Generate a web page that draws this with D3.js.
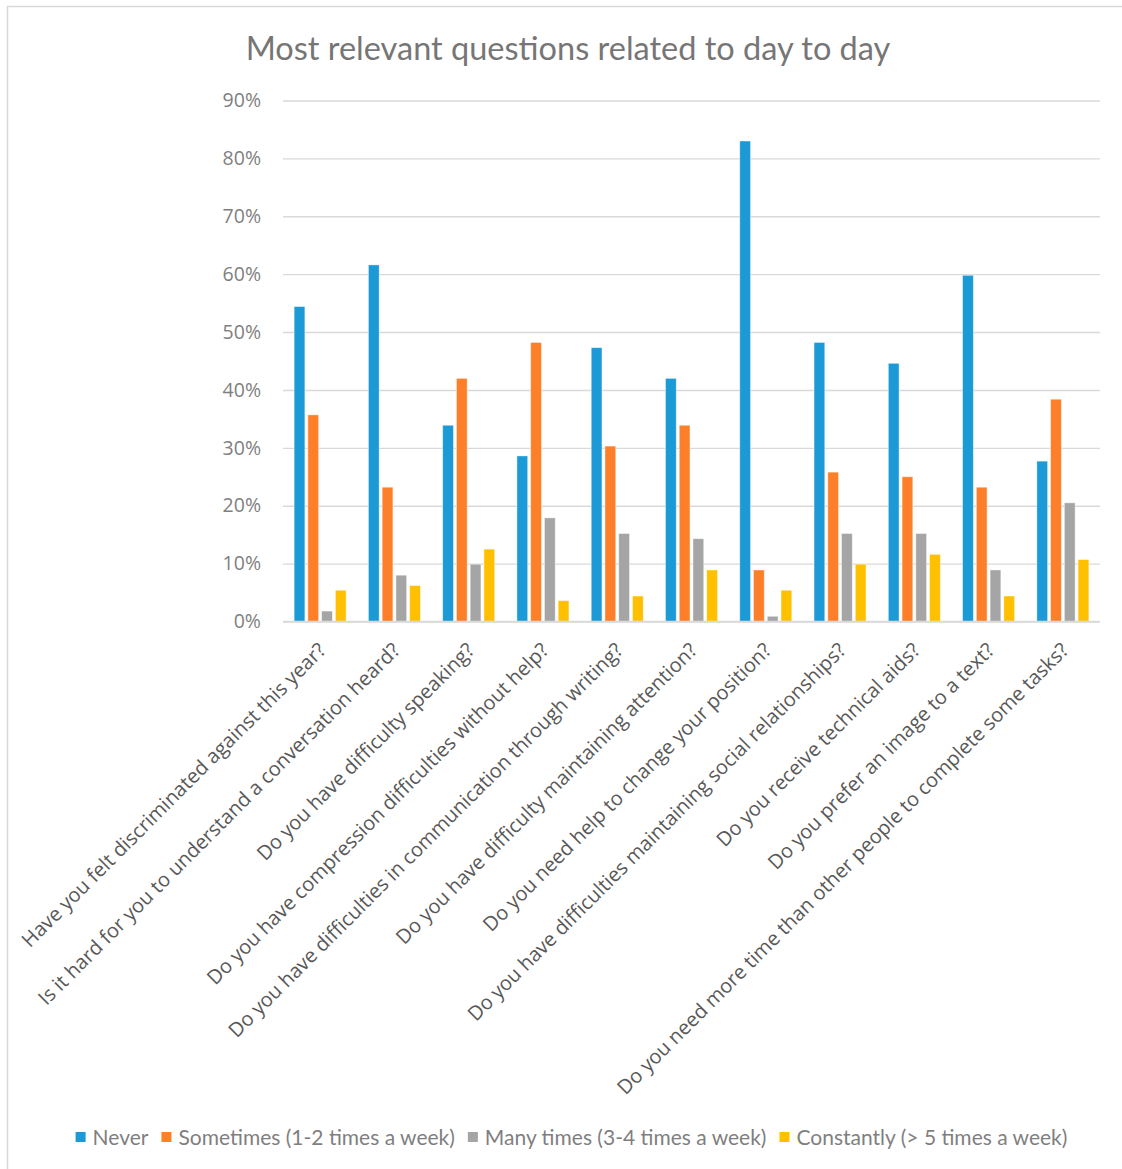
<!DOCTYPE html>
<html>
<head>
<meta charset="utf-8">
<script src="https://cdn.jsdelivr.net/npm/d3@7"></script>
<style>
  html, body { margin: 0; padding: 0; background: #fff; }
  svg { display: block; }
</style>
</head>
<body>
<svg id="chart" width="1122" height="1169"></svg>
<script>
// Survey questions (x categories)
const categories = [
  "Have you felt discriminated against this year?",
  "Is it hard for you to understand a conversation heard?",
  "Do you have difficulty speaking?",
  "Do you have compression difficulties without help?",
  "Do you have difficulties in communication through writing?",
  "Do you have difficulty maintaining attention?",
  "Do you need help to change your position?",
  "Do you have difficulties maintaining social relationships?",
  "Do you receive technical aids?",
  "Do you prefer an image to a text?",
  "Do you need more time than other people to complete some tasks?"
];

// Answer frequencies (legend series)
const seriesNames = [
  "Never",
  "Sometimes (1-2 times a week)",
  "Many times (3-4 times a week)",
  "Constantly (> 5 times a week)"
];

// Share of respondents per answer, in percent, one entry per question
const never      = [54.4, 61.6, 33.9, 28.6, 47.3, 42.0, 83.0, 48.2, 44.6, 59.8, 27.7];
const sometimes  = [35.7, 23.2, 42.0, 48.2, 30.3, 33.9,  8.9, 25.8, 25.0, 23.2, 38.4];
const manyTimes  = [ 1.8,  8.0,  9.9, 17.9, 15.2, 14.3,  0.9, 15.2, 15.2,  8.9, 20.5];
const constantly = [ 5.4,  6.2, 12.5,  3.6,  4.4,  8.9,  5.4,  9.9, 11.6,  4.4, 10.7];

const yTicks = [0, 10, 20, 30, 40, 50, 60, 70, 80, 90];

const seriesValues = [never, sometimes, manyTimes, constantly];
const colors = ["#1b9ad6", "#fe7f2a", "#a5a5a5", "#ffc000"];

const svg = d3.select("#chart");

// Outer chart frame
svg.append("rect")
  .attr("x", 7.5).attr("y", 6.5)
  .attr("width", 1140).attr("height", 1190)
  .attr("fill", "#fff").attr("stroke", "#d9d9d9").attr("stroke-width", 1.5);

const plot = { left: 283, right: 1100, top: 100.5, bottom: 621.5 };

const x0 = d3.scaleBand()
  .domain(d3.range(categories.length))
  .range([plot.left, plot.right])
  .paddingInner(0.3)
  .paddingOuter(0.15);

const x1 = d3.scaleBand()
  .domain(d3.range(seriesNames.length))
  .range([0, x0.bandwidth()])
  .paddingInner(0.22);

const y = d3.scaleLinear().domain([0, 90]).range([plot.bottom, plot.top]);

// Title
svg.append("text")
  .attr("x", 568).attr("y", 60)
  .attr("text-anchor", "middle")
  .attr("font-family", "Lato, 'Open Sans', sans-serif")
  .attr("font-size", 32.5)
  .attr("fill", "#767676")
  .text("Most relevant questions related to day to day");

// Horizontal gridlines and y tick labels
const yAxis = d3.axisLeft(y)
  .tickValues(yTicks)
  .tickSize(-(plot.right - plot.left))
  .tickPadding(22)
  .tickFormat(d => d + "%");

const gy = svg.append("g")
  .attr("transform", `translate(${plot.left},0)`)
  .call(yAxis);
gy.select(".domain").remove();
gy.selectAll(".tick line")
  .attr("stroke", "#d9d9d9")
  .attr("stroke-width", 1.4);
gy.selectAll(".tick text")
  .attr("font-family", "'Open Sans', sans-serif")
  .attr("font-size", 19.5)
  .attr("fill", "#7f7f7f");

// Grouped bars
const groups = svg.append("g")
  .selectAll("g")
  .data(categories.map((c, i) => i))
  .join("g")
  .attr("transform", i => `translate(${x0(i)},0)`);

groups.selectAll("rect")
  .data(i => seriesValues.map((vals, s) => ({ s, v: vals[i] })))
  .join("rect")
  .attr("x", d => x1(d.s))
  .attr("y", d => y(d.v))
  .attr("width", x1.bandwidth())
  .attr("height", d => y(0) - y(d.v))
  .attr("fill", d => colors[d.s])
  .attr("stroke", "#ffffff")
  .attr("stroke-opacity", 0.5)
  .attr("stroke-width", 0.8);

// Baseline
svg.append("line")
  .attr("x1", plot.left).attr("x2", plot.right)
  .attr("y1", y(0)).attr("y2", y(0))
  .attr("stroke", "#d9d9d9").attr("stroke-width", 1.6);

// Rotated category labels
const xAxis = d3.axisBottom(x0).tickSize(0).tickFormat(i => categories[i]);
const gx = svg.append("g")
  .attr("transform", `translate(0,${plot.bottom})`)
  .call(xAxis);
gx.select(".domain").remove();
gx.selectAll(".tick text")
  .attr("font-family", "'Open Sans', sans-serif")
  .attr("font-size", 20)
  .attr("fill", "#595959")
  .attr("text-anchor", "end")
  .attr("x", 0).attr("y", 0).attr("dy", "0.35em")
  .attr("transform", "translate(2,25) rotate(-45)");

// Legend
const legend = svg.append("g").attr("transform", "translate(0,1138)");
const items = legend.selectAll("g")
  .data(seriesNames)
  .join("g");
items.append("rect")
  .attr("width", 10).attr("height", 10)
  .attr("y", -6)
  .attr("fill", (d, i) => colors[i]);
items.append("text")
  .attr("x", 17).attr("y", 0).attr("dy", "0.35em")
  .attr("font-family", "Lato, 'Open Sans', sans-serif")
  .attr("font-size", 21)
  .attr("fill", "#7f7f7f")
  .text(d => d);

let cursor = 0;
const offsets = [];
items.each(function () {
  offsets.push(cursor);
  const w = d3.select(this).select("text").node().getComputedTextLength();
  cursor += 17 + w + 13;
});
const total = cursor - 13;
const startX = 571.5 - total / 2;
items.attr("transform", (d, i) => `translate(${startX + offsets[i]},0)`);
</script>
</body>
</html>
